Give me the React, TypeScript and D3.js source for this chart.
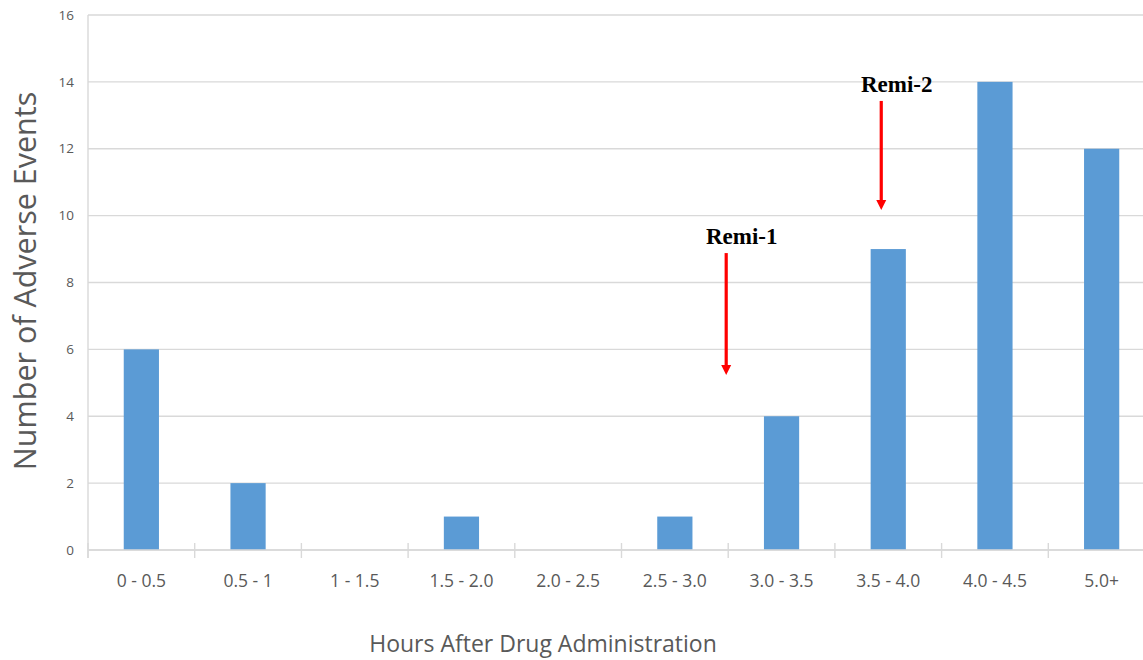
import React from "react";
import * as d3 from "d3";

// Adverse events counted per post-dose time window
const categories = [
  "0 - 0.5",
  "0.5 - 1",
  "1 - 1.5",
  "1.5 - 2.0",
  "2.0 - 2.5",
  "2.5 - 3.0",
  "3.0 - 3.5",
  "3.5 - 4.0",
  "4.0 - 4.5",
  "5.0+",
];
const eventCounts = [6, 2, 0, 1, 0, 1, 4, 9, 14, 12];
const yTicks = [0, 2, 4, 6, 8, 10, 12, 14, 16];

// Dosing markers: arrow drawn at a category, from tailValue down to tipValue
const markerLabels = ["Remi-1", "Remi-2"];
const markerCategories = ["3.0 - 3.5", "3.5 - 4.0"];
const markerAnchors = ["left", "center"];
const markerTipValues = [5.23, 10.17];
const markerTailValues = [8.88, 13.43];

const WIDTH = 1143;
const HEIGHT = 660;
const LEFT = 88;
const STEP = 106.7;
const TOP = 15;
const BOTTOM = 550;

const TEXT_FONT = "'Open Sans', 'Liberation Sans', sans-serif";

export default function App() {
  const x = d3
    .scaleBand<string>()
    .domain(categories)
    .range([LEFT, LEFT + STEP * categories.length])
    .paddingInner(0.67)
    .paddingOuter(0.335);
  const y = d3.scaleLinear().domain([0, 16]).range([BOTTOM, TOP]);

  const step = x.step();
  const bandStart = (c: string) => (x(c) as number) - (x.paddingInner() * step) / 2;
  const boundaries = categories.map(bandStart).concat([bandStart(categories[categories.length - 1]) + step]);

  return (
    <svg
      width={WIDTH}
      height={HEIGHT}
      style={{ position: "absolute", left: 0, top: 0, background: "#fff" }}
    >
      {/* horizontal gridlines */}
      {yTicks.map((t) => (
        <line
          key={"g" + t}
          x1={LEFT}
          x2={LEFT + STEP * categories.length}
          y1={y(t)}
          y2={y(t)}
          stroke="#d9d9d9"
          strokeWidth={1.4}
        />
      ))}
      {/* left axis line */}
      <line x1={LEFT} x2={LEFT} y1={TOP} y2={BOTTOM + 8} stroke="#d9d9d9" strokeWidth={1.4} />
      {/* category boundary ticks */}
      {boundaries.map((bx, i) => (
        <line key={"t" + i} x1={bx} x2={bx} y1={BOTTOM - 7} y2={BOTTOM + 8} stroke="#d9d9d9" strokeWidth={1.4} />
      ))}
      {/* y tick labels */}
      {yTicks.map((t) => (
        <text
          key={"yl" + t}
          x={74}
          y={y(t)}
          dy="0.35em"
          textAnchor="end"
          fontFamily={TEXT_FONT}
          fontSize={13.5}
          fill="#595959"
        >
          {t}
        </text>
      ))}
      {/* bars */}
      {categories.map((c, i) => (
        <rect
          key={"b" + c}
          x={x(c)}
          y={y(eventCounts[i])}
          width={x.bandwidth()}
          height={y(0) - y(eventCounts[i])}
          fill="#5b9bd5"
        />
      ))}
      {/* baseline */}
      <line
        x1={LEFT}
        x2={LEFT + STEP * categories.length}
        y1={BOTTOM}
        y2={BOTTOM}
        stroke="#d9d9d9"
        strokeWidth={1.4}
      />
      {/* x tick labels */}
      {categories.map((c) => (
        <text
          key={"xl" + c}
          x={(x(c) as number) + x.bandwidth() / 2}
          y={587}
          textAnchor="middle"
          fontFamily={TEXT_FONT}
          fontSize={17.5}
          fill="#595959"
        >
          {c}
        </text>
      ))}
      {/* axis titles */}
      <text
        transform={`translate(36, ${281}) rotate(-90)`}
        textAnchor="middle"
        fontFamily={TEXT_FONT}
        fontSize={30.5}
        fill="#595959"
      >
        Number of Adverse Events
      </text>
      <text
        x={543}
        y={652}
        textAnchor="middle"
        fontFamily={TEXT_FONT}
        fontSize={23}
        fill="#595959"
      >
        Hours After Drug Administration
      </text>
      {/* dosing markers */}
      {markerLabels.map((label, i) => {
        const c = markerCategories[i];
        const ax =
          markerAnchors[i] === "left"
            ? bandStart(c) - 2
            : (x(c) as number) + x.bandwidth() / 2 - 7;
        const tipY = y(markerTipValues[i]);
        const tailY = y(markerTailValues[i]);
        return (
          <g key={label}>
            <line x1={ax} x2={ax} y1={tailY} y2={tipY - 9} stroke="#ff0000" strokeWidth={3.2} />
            <path
              d={`M${ax - 5},${tipY - 10} L${ax + 5},${tipY - 10} L${ax},${tipY} Z`}
              fill="#ff0000"
            />
            <text
              x={ax + 15.5}
              y={tailY - 9}
              textAnchor="middle"
              fontFamily="'Liberation Serif', 'DejaVu Serif', serif"
              fontWeight="bold"
              fontSize={23}
              fill="#000"
            >
              {label}
            </text>
          </g>
        );
      })}
    </svg>
  );
}
